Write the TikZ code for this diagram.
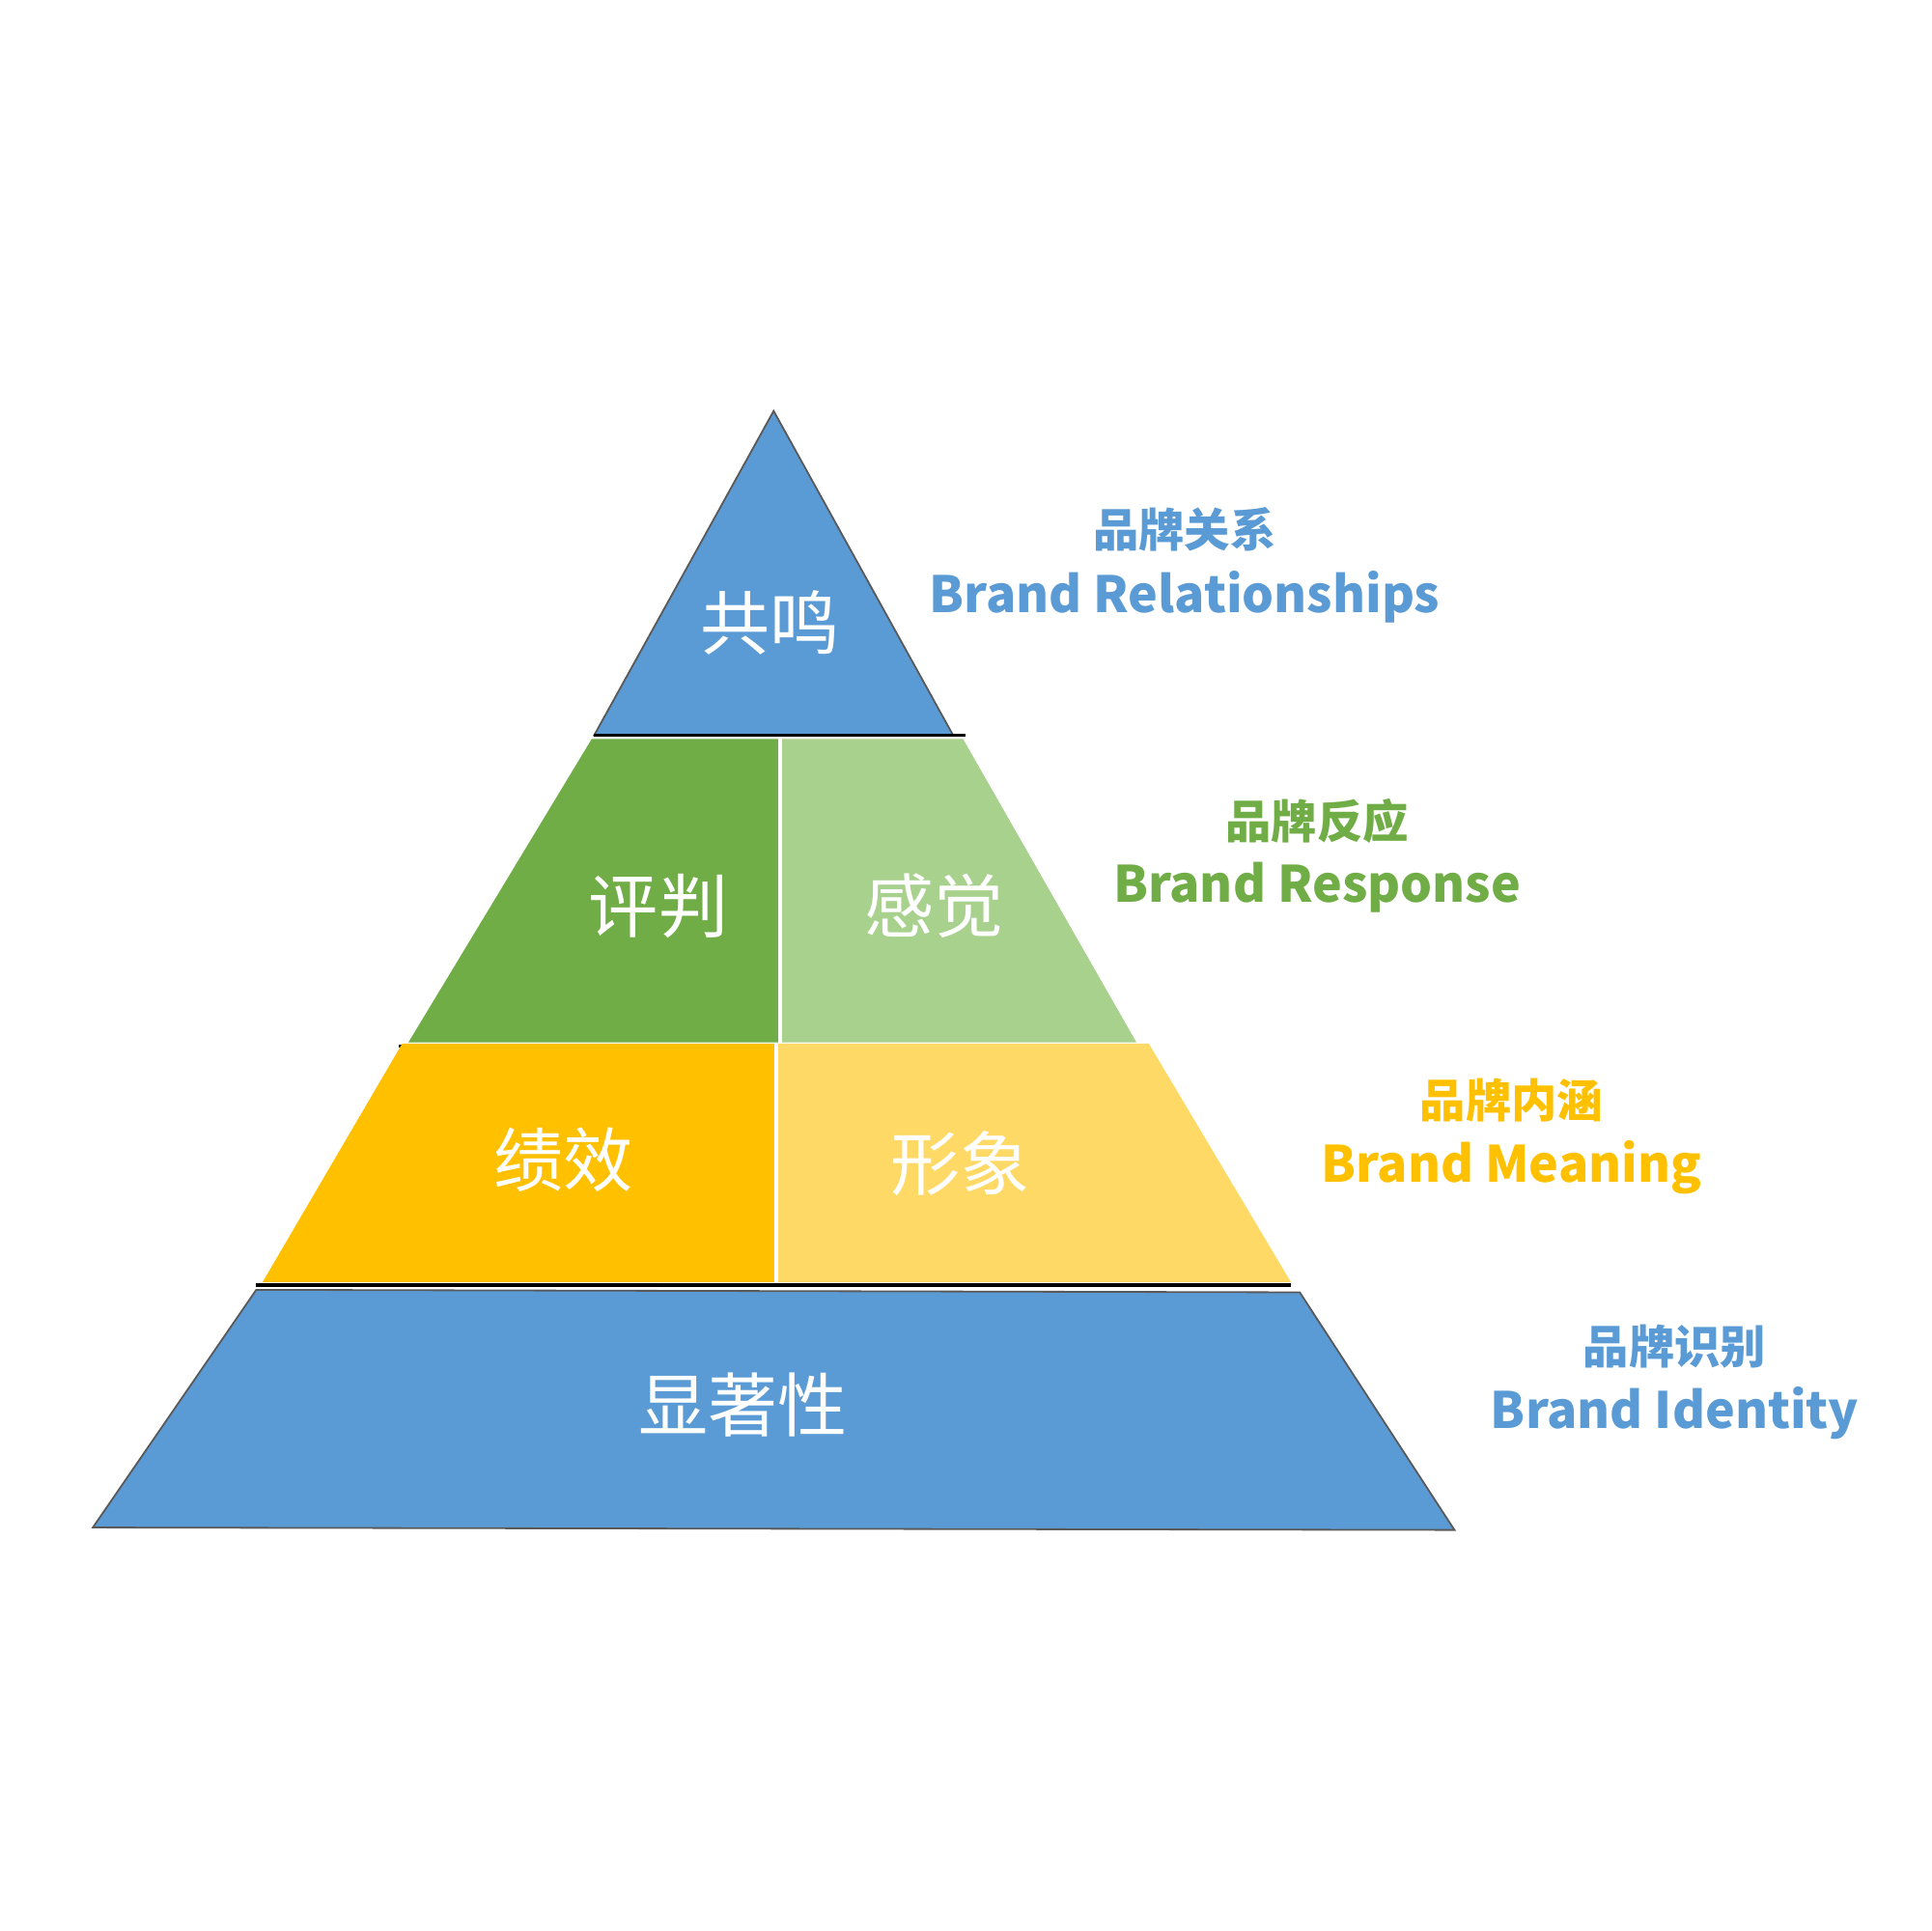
\documentclass[tikz,border=0pt]{standalone}
\usepackage{fontspec}
\setmainfont{Noto Sans CJK SC}
\definecolor{pb}{HTML}{5B9BD5}
\definecolor{pg}{HTML}{70AD47}
\definecolor{plg}{HTML}{A9D18E}
\definecolor{py}{HTML}{FFC000}
\definecolor{ply}{HTML}{FFD966}
\begin{document}
\begin{tikzpicture}[x=0.01cm,y=-0.01cm,
  tier/.style={draw=gray!70!black,line width=0.4pt},
  inner/.style={text=white,font=\fontsize{16}{18}\selectfont},
  zh/.style={font=\bfseries\fontsize{10.5}{12}\selectfont},
  en/.style={font=\bfseries\fontsize{11.5}{13}\selectfont}]
\useasboundingbox (0,0) rectangle (1560,1560);
% top
\fill[pb,tier] (625,332) -- (770,594) -- (480,594) -- cycle;
\draw[black,line width=0.8pt] (480,594) -- (780,594);
% green
\fill[pg] (478,597) -- (630,597) -- (630,842) -- (330,842) -- cycle;
\fill[plg] (630,597) -- (778,597) -- (918,842) -- (630,842) -- cycle;
\draw[white,line width=0.8pt] (630,597) -- (630,842);
\draw[black,line width=0.6pt] (322,845) -- (630,845);
% yellow
\fill[py] (325,843) -- (627,843) -- (627,1036) -- (212,1036) -- cycle;
\fill[ply] (627,843) -- (928,843) -- (1043,1036) -- (627,1036) -- cycle;
\draw[white,line width=0.8pt] (627,843) -- (627,1036);
\draw[black,line width=0.8pt] (207,1038) -- (1043,1038);
% bottom
\fill[pb,tier] (207,1042) -- (1050,1044) -- (1175,1236) -- (75,1234) -- cycle;
% inner labels
\node[inner] (a) at (622,503) {共鸣};
\node[inner] (b) at (532,732) {评判};
\node[inner] (c) at (755,732) {感觉};
\node[inner] (d) at (455,937) {绩效};
\node[inner] (e) at (776,940) {形象};
\node[inner] (f) at (600,1135) {显著性};
% side labels
\node[zh,text=pb] (z1) at (957,428) {品牌关系};
\node[en,text=pb] (e1) at (957,482) {Brand Relationships};
\node[zh,text=pg] (z2) at (1064,663) {品牌反应};
\node[en,text=pg] (e2) at (1064,717) {Brand Response};
\node[zh,text=py] (z3) at (1221,889) {品牌内涵};
\node[en,text=py] (e3) at (1221,943) {Brand Meaning};
\node[zh,text=pb] (z4) at (1353,1088) {品牌识别};
\node[en,text=pb] (e4) at (1353,1142) {Brand Identity};
\end{tikzpicture}
\end{document}
